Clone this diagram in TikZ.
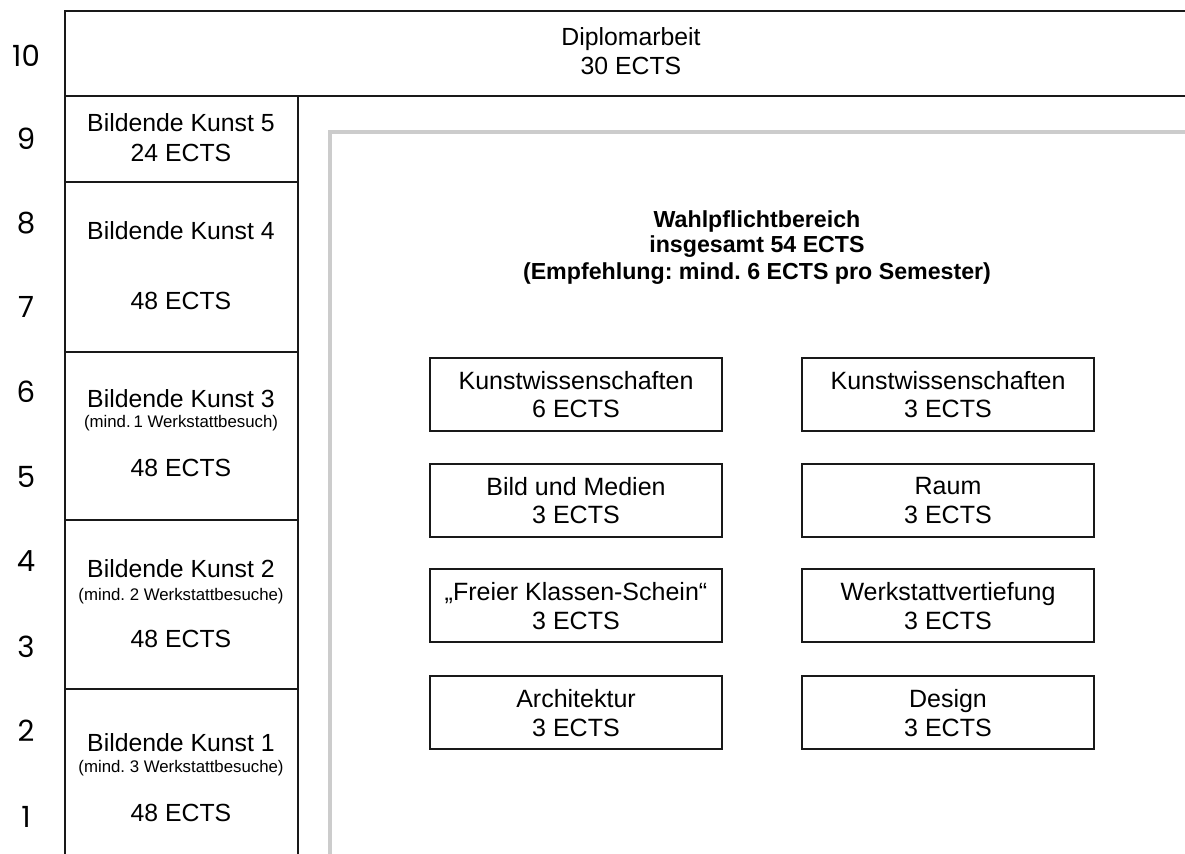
\documentclass[tikz,border=0pt]{standalone}
\usepackage{fontspec}
\setmainfont{Liberation Sans}
\newfontfamily\numfont{Poppins}
\usetikzlibrary{calc}
\frenchspacing
\begin{document}
\frenchspacing
\begin{tikzpicture}[x=0.5pt,y=-0.5pt,
  frame/.style={line width=1pt, black!90},
  grayframe/.style={line width=2pt, black!20},
  num/.style={font=\numfont\fontsize{14.6}{16}\selectfont, anchor=base, inner sep=0},
  txt/.style={font=\fontsize{12.4}{14}\selectfont, anchor=base, inner sep=0},
  small/.style={font=\fontsize{8.4}{10}\selectfont, anchor=base, inner sep=0},
  ttl/.style={font=\bfseries\fontsize{11.6}{14}\selectfont, anchor=base, inner sep=0},
  course/.style={draw, line width=1pt, black!90, text=black, minimum width=146pt, minimum height=36.5pt, inner sep=0, align=center, font=\fontsize{12.5}{14.3}\selectfont}
]
\useasboundingbox (0,0) rectangle (1185,854);
\clip (0,0) rectangle (1185,854);

% grid
\draw[frame] (1200,11) -- (65,11) -- (65,870);
\draw[frame] (65,96) -- (1200,96);
\draw[frame] (298,96) -- (298,870);
\foreach \yy in {182,352,520,689} \draw[frame] (65,\yy) -- (298,\yy);
% grey frame
\draw[grayframe] (330,870) -- (330,132) -- (1200,132);

% semester numbers
\node[num] (s10) at (26,67) {10};
\node[num] (s9) at (26,150) {9};
\node[num] (s8) at (26,234) {8};
\node[num] (s7) at (26,318) {7};
\node[num] (s6) at (26,403) {6};
\node[num] (s5) at (26,488) {5};
\node[num] (s4) at (26,572) {4};
\node[num] (s3) at (26,658) {3};
\node[num] (s2) at (26,742) {2};
\node[num] (s1) at (26,828) {1};

% Diplomarbeit
\node[txt] (dipA) at (631,46) {Diplomarbeit};
\node[txt] (dipB) at (631,75) {30 ECTS};

% Bildende Kunst
\node[txt] (bk5a) at (181,132) {Bildende Kunst 5};
\node[txt] (bk5b) at (181,162) {24 ECTS};
\node[txt] (bk4a) at (181,240) {Bildende Kunst 4};
\node[txt] (bk4b) at (181,310) {48 ECTS};
\node[txt] (bk3a) at (181,408) {Bildende Kunst 3};
\node[small] (bk3s) at (181,428) {(mind.\,1 Werkstattbesuch)};
\node[txt] (bk3b) at (181,477) {48 ECTS};
\node[txt] (bk2a) at (181,578) {Bildende Kunst 2};
\node[small] (bk2s) at (181,601) {(mind. 2 Werkstattbesuche)};
\node[txt] (bk2b) at (181,648) {48 ECTS};
\node[txt] (bk1a) at (181,752) {Bildende Kunst 1};
\node[small] (bk1s) at (181,773) {(mind. 3 Werkstattbesuche)};
\node[txt] (bk1b) at (181,822) {48 ECTS};

% Wahlpflichtbereich title
\node[ttl] (t1) at (757,228) {Wahlpflichtbereich};
\node[ttl] (t2) at (757,253) {insgesamt 54 ECTS};
\node[ttl] (t3) at (757,280) {(Empfehlung: mind. 6 ECTS pro Semester)};

% courses
\node[course] (kw6) at (576,394.5) {Kunstwissenschaften\\6 ECTS};
\node[course] (kw3) at (948,394.5) {Kunstwissenschaften\\3 ECTS};
\node[course] (bm) at (576,500.5) {Bild und Medien\\3 ECTS};
\node[course] (raum) at (948,500.5) {Raum\\3 ECTS};
\node[course] (fks) at (576,606) {„Freier Klassen-Schein“\\3 ECTS};
\node[course] (wv) at (948,606) {Werkstattvertiefung\\3 ECTS};
\node[course] (arch) at (576,713) {Architektur\\3 ECTS};
\node[course] (des) at (948,713) {Design\\3 ECTS};
\end{tikzpicture}
\end{document}
